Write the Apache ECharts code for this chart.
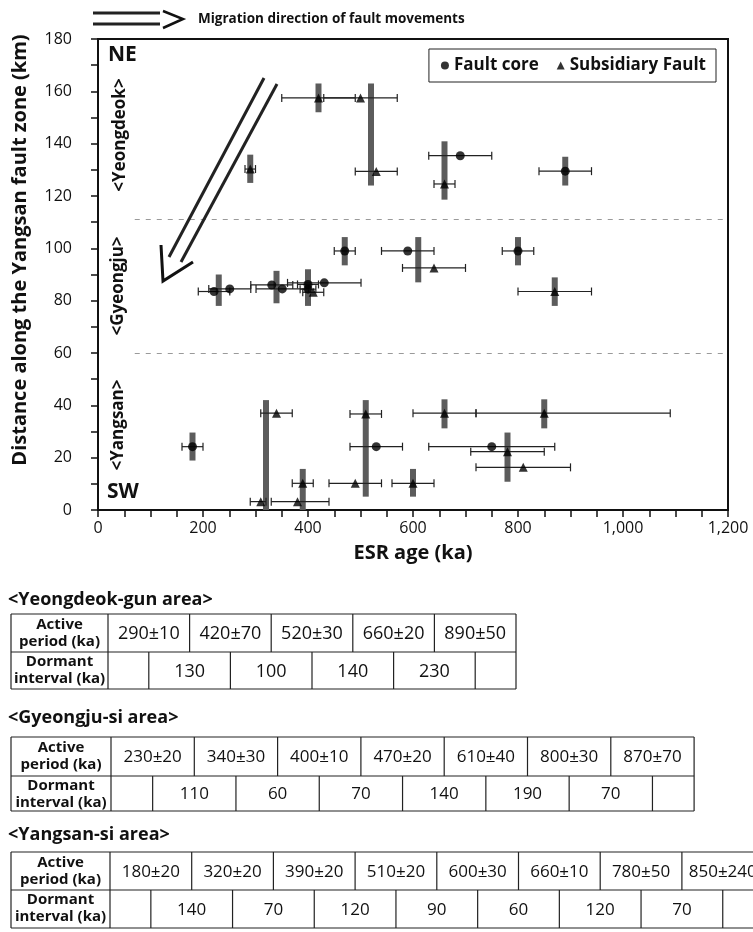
<!DOCTYPE html>
<html>
<head>
<meta charset="utf-8">
<script src="https://cdn.jsdelivr.net/npm/echarts@6/dist/echarts.min.js"></script>
<style>
  html, body { margin: 0; padding: 0; background: #fff; }
  #chart { width: 753px; height: 932px; }
</style>
</head>
<body>
<div id="chart"></div>
<script>
// ESR ages (ka) of fault gouge along the Yangsan fault zone, distance in km

// Fault core samples: age, distance, symmetric error
const coreAge = [690, 890, 221, 251, 331, 351, 400, 400, 431, 470, 590, 800, 180, 530, 750];
const coreKm  = [135.4, 129.5, 83.5, 84.5, 86, 84.5, 86.2, 84.4, 86.8, 99, 99, 99, 24.2, 24.2, 24.2];
const coreErr = [60, 50, 30, 40, 40, 50, 20, 15, 70, 20, 50, 30, 20, 50, 120];

// Subsidiary fault samples: age, distance, lower / upper error
const subAge   = [290, 420, 500, 530, 660, 410, 640, 870, 340, 310, 380, 390, 490, 510, 600, 660, 850, 780, 810];
const subKm    = [130.3, 157.5, 157.5, 129.4, 124.6, 83.2, 92.5, 83.5, 37, 3.2, 3.2, 10.2, 10.2, 36.7, 10.2, 37, 37, 22.3, 16.3];
const subErrLo = [10, 70, 70, 40, 20, 20, 60, 70, 30, 20, 50, 20, 50, 30, 40, 60, 130, 70, 90];
const subErrHi = [10, 70, 70, 40, 20, 20, 60, 70, 30, 10, 60, 20, 50, 30, 40, 60, 240, 70, 90];

// Active periods: age and the distance span they cover
const activeAge  = [290, 420, 520, 660, 890, 230, 340, 400, 470, 610, 800, 870, 180, 320, 390, 510, 600, 660, 780, 850];
const activeFrom = [125, 152, 124, 118.6, 124, 78, 79, 78, 93.5, 87, 93.5, 78, 18.9, 0, 0, 5.1, 5.1, 31.2, 10.8, 31.2];
const activeTo   = [135.8, 163, 163, 140.9, 135, 90, 91.4, 92, 104.3, 104.3, 104.3, 88.9, 29.6, 42, 15.7, 42, 15.7, 42.3, 29.6, 42.3];

// Boundaries between the three segments (km)
const segmentBounds = [111, 60];
const segmentNames = ['<Yeongdeok>', '<Gyeongju>', '<Yangsan>'];

// Tables of active periods and dormant intervals
const yeongdeokActive  = ['290±10', '420±70', '520±30', '660±20', '890±50'];
const yeongdeokDormant = ['130', '100', '140', '230'];
const gyeongjuActive   = ['230±20', '340±30', '400±10', '470±20', '610±40', '800±30', '870±70'];
const gyeongjuDormant  = ['110', '60', '70', '140', '190', '70'];
const yangsanActive    = ['180±20', '320±20', '390±20', '510±20', '600±30', '660±10', '780±50', '850±240'];
const yangsanDormant   = ['140', '70', '120', '90', '60', '120', '70'];

const FONT = '"Open Sans", "Noto Sans", sans-serif';
const INK = '#111';

const chart = echarts.init(document.getElementById('chart'), null, { renderer: 'canvas', width: 753, height: 932 });

function errorBarItem(params, api) {
  const y = api.value(1);
  const a = api.coord([api.value(2), y]);
  const b = api.coord([api.value(3), y]);
  const h = 4;
  const st = { stroke: '#222', lineWidth: 1.2 };
  return {
    type: 'group',
    children: [
      { type: 'line', shape: { x1: a[0], y1: a[1], x2: b[0], y2: b[1] }, style: st },
      { type: 'line', shape: { x1: a[0], y1: a[1] - h, x2: a[0], y2: a[1] + h }, style: st },
      { type: 'line', shape: { x1: b[0], y1: b[1] - h, x2: b[0], y2: b[1] + h }, style: st }
    ]
  };
}

function activeBarItem(params, api) {
  const top = api.coord([api.value(0), api.value(2)]);
  const bot = api.coord([api.value(0), api.value(1)]);
  const w = 6;
  return {
    type: 'rect',
    shape: { x: top[0] - w / 2, y: top[1], width: w, height: bot[1] - top[1] },
    style: { fill: '#5c5c5c' }
  };
}

function txt(text, x, y, size, weight, align, rot) {
  return {
    type: 'text', x: x, y: y, rotation: rot || 0, z: 10,
    style: {
      text: text, x: 0, y: 0, fill: INK,
      fontSize: size, fontWeight: weight || 'normal', fontFamily: FONT,
      textAlign: align || 'center', align: align || 'center',
      textVerticalAlign: 'middle', verticalAlign: 'middle'
    }
  };
}

function seg(x1, y1, x2, y2, w) {
  return { type: 'line', z: 10, shape: { x1, y1, x2, y2 }, style: { stroke: '#222', lineWidth: w || 1 } };
}

// Two-row table: active periods on top, dormant intervals offset by half a cell below
function table(title, titleY, top, mid, bottom, left, firstRight, cellW, active, dormant, valueSize) {
  const els = [];
  const n = active.length;
  const right = firstRight + n * cellW;
  els.push(txt(title, 8, titleY, 18, 'bold', 'left'));
  els.push(seg(left, top, right, top, 1.2));
  els.push(seg(left, mid, right, mid, 1.2));
  els.push(seg(left, bottom, right, bottom, 1.2));
  els.push(seg(left, top, left, bottom, 1.2));
  els.push(seg(firstRight, top, firstRight, bottom, 1.2));
  els.push(seg(right, top, right, bottom, 1.2));
  for (let k = 1; k < n; k++) {
    const x = firstRight + k * cellW;
    els.push(seg(x, top, x, mid, 1.2));
  }
  for (let k = 0; k < n; k++) {
    const x = firstRight + cellW / 2 + k * cellW;
    els.push(seg(x, mid, x, bottom, 1.2));
  }
  const cx = (left + firstRight) / 2;
  els.push(txt('Active', cx, top + 11, 15, 'bold'));
  els.push(txt('period (ka)', cx, top + 28, 15, 'bold'));
  els.push(txt('Dormant', cx, mid + 10, 15, 'bold'));
  els.push(txt('interval (ka)', cx, mid + 27, 15, 'bold'));
  active.forEach((v, k) => els.push(txt(v, firstRight + (k + 0.5) * cellW, (top + mid) / 2 + 1, valueSize)));
  dormant.forEach((v, k) => els.push(txt(v, firstRight + cellW * (k + 1), (mid + bottom) / 2 + 1, valueSize)));
  return els;
}

const graphics = [].concat(
  // migration arrow key at the top
  [
    seg(93, 13, 160, 13, 3), seg(93, 24, 160, 24, 3),
    { type: 'polyline', z: 10, shape: { points: [[163, 11], [183, 19], [163, 28]] }, style: { stroke: '#111', lineWidth: 2.5, fill: null } },
    txt('Migration direction of fault movements', 198, 19, 13.5, 'bold', 'left')
  ],
  // migration arrow inside the plot
  [
    seg(264, 78, 169, 257, 3), seg(277, 84, 181, 262, 3),
    { type: 'polyline', z: 10, shape: { points: [[161, 245], [163, 281], [193, 262]] }, style: { stroke: '#111', lineWidth: 3, fill: null } }
  ],
  // axis titles
  [
    txt('Distance along the Yangsan fault zone (km)', 20, 250, 20, 'bold', 'center', Math.PI / 2),
    txt('ESR age (ka)', 413, 553, 20, 'bold')
  ],
  // orientation and segment labels
  [
    txt('NE', 108, 55, 21, 'bold', 'left'),
    txt('SW', 107, 492, 21, 'bold', 'left'),
    txt(segmentNames[0], 120, 135, 17, 'bold', 'center', Math.PI / 2),
    txt(segmentNames[1], 118, 286, 17, 'bold', 'center', Math.PI / 2),
    txt(segmentNames[2], 118, 425, 17, 'bold', 'center', Math.PI / 2)
  ],
  table('<Yeongdeok-gun area>', 600, 614, 652, 689, 11, 108, 81.6, yeongdeokActive, yeongdeokDormant, 18),
  table('<Gyeongju-si area>', 718, 737, 776, 811, 11, 111, 83.3, gyeongjuActive, gyeongjuDormant, 17),
  table('<Yangsan-si area>', 835, 852, 890, 928, 11, 110, 81.7, yangsanActive, yangsanDormant, 17)
);

const tickStyle = { color: INK, width: 1.5 };

chart.setOption({
  animation: false,
  backgroundColor: '#fff',
  grid: { left: 98, top: 39, width: 630, height: 471, show: true, borderColor: INK, borderWidth: 2, backgroundColor: 'transparent' },
  legend: {
    right: 37, top: 49, itemWidth: 8, itemHeight: 8, itemGap: 18,
    padding: [8, 10, 8, 12], borderColor: '#222', borderWidth: 1,
    textStyle: { fontSize: 17, fontWeight: 'bold', fontFamily: FONT, color: INK },
    data: [{ name: 'Fault core', icon: 'circle' }, { name: 'Subsidiary Fault', icon: 'triangle' }]
  },
  xAxis: {
    type: 'value', min: 0, max: 1200, interval: 200,
    axisLine: { lineStyle: { color: INK, width: 2 } },
    axisTick: { length: 7, lineStyle: tickStyle },
    minorTick: { show: true, splitNumber: 4, length: 7, lineStyle: tickStyle },
    splitLine: { show: false },
    axisLabel: { fontSize: 16, color: INK, fontFamily: FONT, margin: 10, formatter: v => v.toLocaleString('en-US') }
  },
  yAxis: {
    type: 'value', min: 0, max: 180, interval: 20,
    axisLine: { lineStyle: { color: INK, width: 2 } },
    axisTick: { length: 7, lineStyle: tickStyle },
    minorTick: { show: true, splitNumber: 2, length: 7, lineStyle: tickStyle },
    splitLine: { show: false },
    axisLabel: { fontSize: 16, color: INK, fontFamily: FONT, margin: 26 }
  },
  graphic: graphics,
  series: [
    {
      name: 'active', type: 'custom', z: 1, renderItem: activeBarItem,
      encode: { x: 0, y: [1, 2] },
      data: activeAge.map((a, i) => [a, activeFrom[i], activeTo[i]]),
      markLine: {
        silent: true, symbol: 'none', label: { show: false },
        lineStyle: { color: '#9a9a9a', type: [5, 6], width: 1 },
        data: segmentBounds.map(b => [{ coord: [70, b] }, { coord: [1200, b] }])
      }
    },
    {
      name: 'coreErr', type: 'custom', z: 2, renderItem: errorBarItem,
      encode: { x: [2, 3], y: 1 },
      data: coreAge.map((a, i) => [a, coreKm[i], a - coreErr[i], a + coreErr[i]])
    },
    {
      name: 'subErr', type: 'custom', z: 2, renderItem: errorBarItem,
      encode: { x: [2, 3], y: 1 },
      data: subAge.map((a, i) => [a, subKm[i], a - subErrLo[i], a + subErrHi[i]])
    },
    {
      name: 'Fault core', type: 'scatter', z: 3, symbol: 'circle', symbolSize: 9,
      itemStyle: { color: '#000' },
      data: coreAge.map((a, i) => [a, coreKm[i]])
    },
    {
      name: 'Subsidiary Fault', type: 'scatter', z: 3, symbol: 'triangle', symbolSize: 9,
      itemStyle: { color: '#000' },
      data: subAge.map((a, i) => [a, subKm[i]])
    }
  ]
});
</script>
</body>
</html>
